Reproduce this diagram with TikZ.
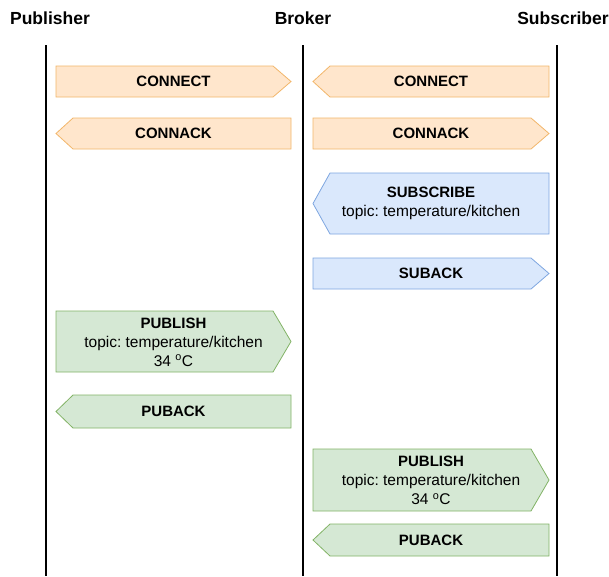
\documentclass[tikz,border=0pt]{standalone}
\usepackage{fontspec}
\setmainfont{Liberation Sans}
\frenchspacing
\definecolor{orfill}{HTML}{FFE6CC}\definecolor{ordraw}{HTML}{F2B66A}
\definecolor{blfill}{HTML}{DAE8FC}\definecolor{bldraw}{HTML}{7EA6E0}
\definecolor{grfill}{HTML}{D5E8D4}\definecolor{grdraw}{HTML}{82B366}
\tikzset{
  lifeline/.style={line width=1.6pt, black},
  actor/.style={font=\fontsize{17.5}{19}\selectfont\bfseries, anchor=center},
  msgtext/.style={align=center, font=\fontsize{15.5}{19}\selectfont, inner sep=0pt},
  orange msg/.style={fill=orfill, draw=ordraw, line width=0.8pt},
  blue msg/.style={fill=blfill, draw=bldraw, line width=0.8pt},
  green msg/.style={fill=grfill, draw=grdraw, line width=0.8pt},
}
\newcommand\hd[1]{{\fontsize{15}{19}\selectfont\bfseries #1}}
% message arrow shapes: #1 style, #2 left x, #3 right x, #4 top y, #5 bottom y
\newcommand\msgtoright[5]{\draw[#1] (#2,#4) -- (#3-18,#4) -- (#3,{(#4+#5)/2}) -- (#3-18,#5) -- (#2,#5) -- cycle;}
\newcommand\msgtoleft[5]{\draw[#1] (#2,{(#4+#5)/2}) -- (#2+17,#4) -- (#3,#4) -- (#3,#5) -- (#2+17,#5) -- cycle;}
\begin{document}
\begin{tikzpicture}[x=1pt,y=-1pt]
\useasboundingbox (0,0) rectangle (609,576);
% participants
\node[actor] (pub) at (50,18) {Publisher};
\node[actor] (bro) at (303,18) {Broker};
\node[actor] (sub) at (563,18) {Subscriber};
\coordinate (pubtop) at (46,45); \coordinate (pubbot) at (46,576);
\coordinate (brotop) at (303,45); \coordinate (brobot) at (303,576);
\coordinate (subtop) at (557,45); \coordinate (subbot) at (557,576);
\draw[lifeline] (pubtop) -- (pubbot);
\draw[lifeline] (brotop) -- (brobot);
\draw[lifeline] (subtop) -- (subbot);
% connection
\msgtoright{orange msg}{56}{291}{66}{97}
\node[msgtext] (c1) at (173.5,81.5) {\hd{CONNECT}};
\msgtoleft{orange msg}{313}{549}{66}{97}
\node[msgtext] (c2) at (431,81.5) {\hd{CONNECT}};
\msgtoleft{orange msg}{56}{291}{118}{149}
\node[msgtext] (a1) at (173.5,133.5) {\hd{CONNACK}};
\msgtoright{orange msg}{313}{549}{118}{149}
\node[msgtext] (a2) at (431,133.5) {\hd{CONNACK}};
% subscription
\msgtoleft{blue msg}{313}{549}{173}{234}
\node[msgtext] (s1) at (431,203.5) {\hd{SUBSCRIBE}\\topic: temperature/kitchen};
\msgtoright{blue msg}{313}{549}{258}{289}
\node[msgtext] (s2) at (431,273.5) {\hd{SUBACK}};
% publishing
\msgtoright{green msg}{56}{291}{311}{372}
\node[msgtext] (p1) at (173.5,342) {\hd{PUBLISH}\\topic: temperature/kitchen\\34 \textsuperscript{o}C};
\msgtoleft{green msg}{56}{291}{395}{428}
\node[msgtext] (k1) at (173.5,411.5) {\hd{PUBACK}};
\msgtoright{green msg}{313}{549}{449}{511}
\node[msgtext] (p2) at (431,480.5) {\hd{PUBLISH}\\topic: temperature/kitchen\\34 \textsuperscript{o}C};
\msgtoleft{green msg}{313}{549}{524}{556}
\node[msgtext] (k2) at (431,540) {\hd{PUBACK}};
\end{tikzpicture}
\end{document}
